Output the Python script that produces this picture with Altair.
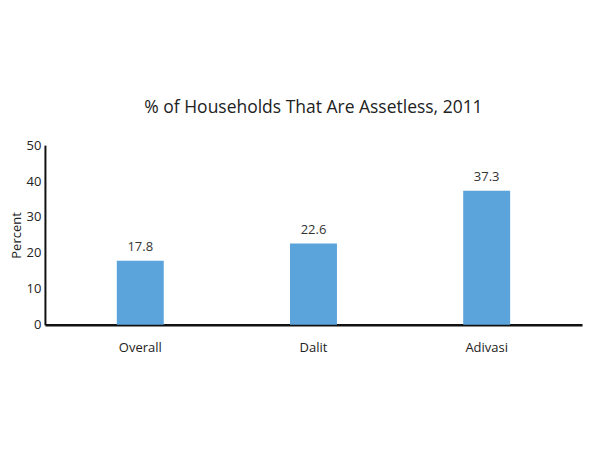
import altair as alt
import pandas as pd

categories = ["Overall", "Dalit", "Adivasi"]
values = [17.8, 22.6, 37.3]
labels = ["17.8", "22.6", "37.3"]
y_ticks = [0, 10, 20, 30, 40, 50]

df = pd.DataFrame({"group": categories, "pct": values, "label": labels})

FONT = "Open Sans"

x = alt.X("group:N", sort=categories, title=None,
          scale=alt.Scale(paddingInner=0.729, paddingOuter=0.415),
          axis=alt.Axis(labelAngle=0, ticks=False, labelPadding=17, labelFontSize=13,
                        labelColor="#222", labelFont=FONT, domainColor="#111", domainWidth=2.5))
y = alt.Y("pct:Q", title="Percent",
          scale=alt.Scale(domain=[0, 50]),
          axis=alt.Axis(values=y_ticks, grid=False, ticks=False, labelPadding=4,
                        labelOverlap=False, labelBound=False,
                        labelFontSize=13, labelColor="#222", labelFont=FONT,
                        titleFont=FONT, titleFontSize=13, titleFontWeight="normal",
                        titleColor="#222", titlePadding=3,
                        domainColor="#111", domainWidth=2))

base = alt.Chart(df).encode(x=x, y=y)
bars = base.mark_bar(color="#5ba3db")
text = base.mark_text(baseline="bottom", dy=-7, fontSize=13, font=FONT, color="#333").encode(
    text="label:N")

chart = alt.layer(bars, text).properties(
    width=538, height=180,
    autosize=alt.AutoSizeParams(type="none"),
    padding={"left": 37, "top": 137, "right": 10, "bottom": 80},
    title=alt.Title("% of Households That Are Assetless, 2011", font=FONT, fontSize=17.5,
                    fontWeight="normal", color="#222", offset=23),
).configure_view(stroke=None)

chart.save("out.html", embed_options={"renderer": "svg", "actions": False})
